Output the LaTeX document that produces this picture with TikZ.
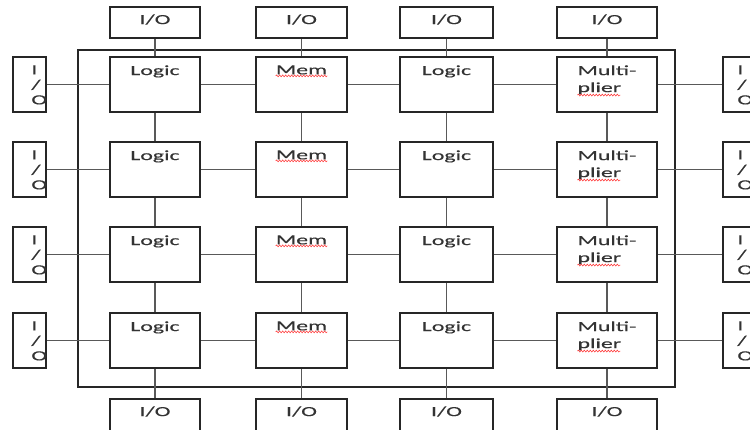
\documentclass[tikz,border=0pt]{standalone}
\usepackage{fontspec}
\newfontfamily\boxfont[FakeStretch=1.7, FakeBold=0.4]{Carlito}
\usetikzlibrary{decorations.pathmorphing}

\tikzset{
  cell/.style={draw=black!85, line width=1.6pt, minimum height=55pt, inner sep=0pt},
  topio/.style={draw=black!85, line width=1.6pt, minimum height=31pt, inner sep=0pt},
  sideio/.style={draw=black!85, line width=1.6pt, minimum width=33pt, minimum height=55pt, inner sep=0pt},
  wire/.style={draw=black!65, line width=1.1pt},
  frame/.style={draw=black!85, line width=1.6pt},
  tag/.style={font=\boxfont\fontsize{14}{17}\selectfont, text=black!80, inner sep=0pt, anchor=north, align=left},
  vtag/.style={font=\boxfont\fontsize{14}{15}\selectfont, text=black!80, inner sep=0pt, anchor=north west, align=left},
  squig/.style={draw=red!75, line width=0.6pt, decorate, decoration={snake, amplitude=0.9pt, segment length=3pt}},
}

\begin{document}
\begin{tikzpicture}[x=1pt, y=-1pt]
        \clip (0,0) rectangle (750,430);

        % outer frame
        \draw[frame] (78,50) rectangle (675,387);

        % rows of units
        \foreach \r/\y in {1/84.5, 2/169.5, 3/254.5, 4/340.5} {
            \node[cell, minimum width=90] (lga\r) at (155,\y) {};
            \node[cell, minimum width=91] (mem\r) at (301.5,\y) {};
            \node[cell, minimum width=93] (lgb\r) at (446.5,\y) {};
            \node[cell, minimum width=100] (mul\r) at (607,\y) {};
            \node[sideio] (iol\r) at (29.5,\y) {};
            \node[sideio] (ior\r) at (739.5,\y) {};

            \node[tag] (tlga\r) at ([yshift=-9pt]lga\r.north) {Logic};
            \node[tag] (tmem\r) at ([yshift=-9pt]mem\r.north) {Mem};
            \node[tag] (tlgb\r) at ([yshift=-9pt]lgb\r.north) {Logic};
            \node[tag] (tmul\r) at ([yshift=-9pt]mul\r.north) {Multi-\\plier};
            \node[vtag] (tiol\r) at ([xshift=19pt, yshift=-9pt]iol\r.north west) {I\\/\\O};
            \node[vtag] (tior\r) at ([xshift=15pt, yshift=-9pt]ior\r.north west) {I\\/\\O};

            \draw[squig] ([yshift=-1.5pt]tmem\r.base west) -- ([yshift=-1.5pt]tmem\r.base east);
            \draw[squig] ([yshift=-0.5pt]tmul\r.south west) -- ++(43,0);
        }

        % I/O along top and bottom
        \foreach \k/\x/\w in {1/155/90, 2/301.5/91, 3/446.5/93, 4/607/100} {
            \node[topio, minimum width=\w] (iot\k) at (\x,22.5) {};
            \node[topio, minimum width=\w, minimum height=38] (iob\k) at (\x,418) {};
            \node[tag] (tiot\k) at ([yshift=-8pt]iot\k.north) {I/O};
            \node[tag] (tiob\k) at ([yshift=-8pt]iob\k.north) {I/O};
        }

        % horizontal links
        \foreach \r in {1,...,4} {
            \draw[wire] (iol\r) -- (lga\r) (lga\r) -- (mem\r) (mem\r) -- (lgb\r)
                (lgb\r) -- (mul\r) (mul\r) -- (ior\r);
        }

        % vertical links
        \foreach \c/\k in {lga/1, mem/2, lgb/3, mul/4} {
            \draw[wire] (iot\k) -- (\c1) (\c1) -- (\c2) (\c2) -- (\c3)
                (\c3) -- (\c4) (\c4) -- (iob\k);
        }
\end{tikzpicture}
\end{document}
